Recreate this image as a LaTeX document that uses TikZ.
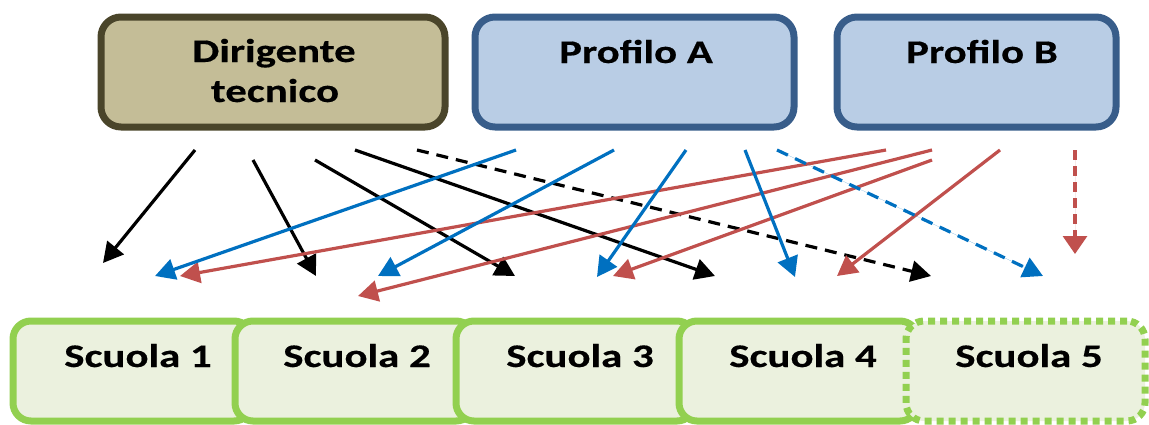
\documentclass[tikz,border=0pt]{standalone}
\usepackage{fontspec}
\newfontfamily\labelfont{Carlito}[FakeStretch=1.3,FakeBold=0.4]
\usetikzlibrary{arrows.meta}
\definecolor{dirfill}{HTML}{C4BD97}
\definecolor{dirline}{HTML}{4A452A}
\definecolor{proffill}{HTML}{B9CDE5}
\definecolor{profline}{HTML}{385D8A}
\definecolor{schfill}{HTML}{EBF1DE}
\definecolor{schline}{HTML}{92D050}
\definecolor{linkblue}{HTML}{0070C0}
\definecolor{linkred}{HTML}{C0504D}

\begin{document}
\begin{tikzpicture}[x=1pt,y=-1pt,
  topbox/.style={rectangle, rounded corners=20pt, line width=7pt,
                 minimum height=110pt, inner sep=0pt},
  dirbox/.style={topbox, draw=dirline, fill=dirfill},
  profbox/.style={topbox, draw=profline, fill=proffill},
  schbox/.style={rectangle, rounded corners=18pt, line width=7pt,
                 draw=schline, fill=schfill,
                 minimum width=239pt, minimum height=100pt, inner sep=0pt},
  lbl/.style={anchor=base, inner sep=0pt,
              font=\labelfont\bfseries\fontsize{33}{40}\selectfont},
  link/.style={line width=3.2pt, -{Triangle[length=20pt,width=21pt]}},
  dashlink/.style={link, dash pattern=on 12pt off 8pt},
]
\useasboundingbox (0,0) rectangle (1149,424);

% --- top row: roles
\node[dirbox,  minimum width=344pt] (dir)  at (273,72) {};
\node[profbox, minimum width=319pt] (profA) at (634.5,72) {};
\node[profbox, minimum width=279pt] (profB) at (976.5,72) {};
\node[lbl] (dirT1) at (274,62)  {Dirigente};
\node[lbl] (dirT2) at (275,102) {tecnico};
\node[lbl] (profAT) at (636,63) {Profilo A};
\node[lbl] (profBT) at (982,63) {Profilo B};

% --- bottom row: schools (each one drawn over the previous)
\node[schbox] (s1) at (132.5,371) {};
\node[schbox] (s2) at (354.5,371) {};
\node[schbox] (s3) at (575.5,371) {};
\node[schbox] (s4) at (798.5,371) {};
\node[schbox, dash pattern=on 7pt off 5pt] (s5) at (1025.5,371) {};
\node[lbl] (s1T) at (138,367)  {Scuola 1};
\node[lbl] (s2T) at (357,367)  {Scuola 2};
\node[lbl] (s3T) at (580,367)  {Scuola 3};
\node[lbl] (s4T) at (803,367)  {Scuola 4};
\node[lbl] (s5T) at (1029,367) {Scuola 5};

% --- connector end points
\coordinate (k1s) at (195,150);  \coordinate (k1e) at (103,263);
\coordinate (k2s) at (253,160);  \coordinate (k2e) at (316,276);
\coordinate (k3s) at (315,160);  \coordinate (k3e) at (515,276);
\coordinate (k4s) at (355,150);  \coordinate (k4e) at (715,276);
\coordinate (k5s) at (417,150);  \coordinate (k5e) at (931,276);

\coordinate (b1s) at (516,150);  \coordinate (b1e) at (155,276);
\coordinate (b2s) at (614,150);  \coordinate (b2e) at (378,276);
\coordinate (b3s) at (686,150);  \coordinate (b3e) at (597,277);
\coordinate (b4s) at (745,150);  \coordinate (b4e) at (795,277);
\coordinate (b5s) at (777,150);  \coordinate (b5e) at (1043,276);

\coordinate (r1s) at (886,150);  \coordinate (r1e) at (180,276);
\coordinate (r2s) at (932,150);  \coordinate (r2e) at (358,296);
\coordinate (r3s) at (932,160);  \coordinate (r3e) at (613,276);
\coordinate (r4s) at (1000,150); \coordinate (r4e) at (837,276);
\coordinate (r5s) at (1075,150); \coordinate (r5e) at (1075,254);

% --- Dirigente tecnico
\draw[link] (k1s) -- (k1e);
\draw[link] (k2s) -- (k2e);
\draw[link] (k3s) -- (k3e);
\draw[link] (k4s) -- (k4e);
\draw[dashlink] (k5s) -- (k5e);

% --- Profilo B
\draw[link, draw=linkred, fill=linkred] (r1s) -- (r1e);
\draw[link, draw=linkred, fill=linkred] (r2s) -- (r2e);
\draw[link, draw=linkred, fill=linkred] (r3s) -- (r3e);
\draw[link, draw=linkred, fill=linkred] (r4s) -- (r4e);
\draw[line width=3.2pt, draw=linkred, fill=linkred, dash pattern=on 10pt off 6pt,
      -{Triangle[length=18pt,width=24pt]}] (r5s) -- (r5e);

% --- Profilo A
\draw[link, draw=linkblue, fill=linkblue] (b1s) -- (b1e);
\draw[link, draw=linkblue, fill=linkblue] (b2s) -- (b2e);
\draw[link, draw=linkblue, fill=linkblue] (b3s) -- (b3e);
\draw[link, draw=linkblue, fill=linkblue] (b4s) -- (b4e);
\draw[dashlink, draw=linkblue, fill=linkblue] (b5s) -- (b5e);
\end{tikzpicture}
\end{document}
